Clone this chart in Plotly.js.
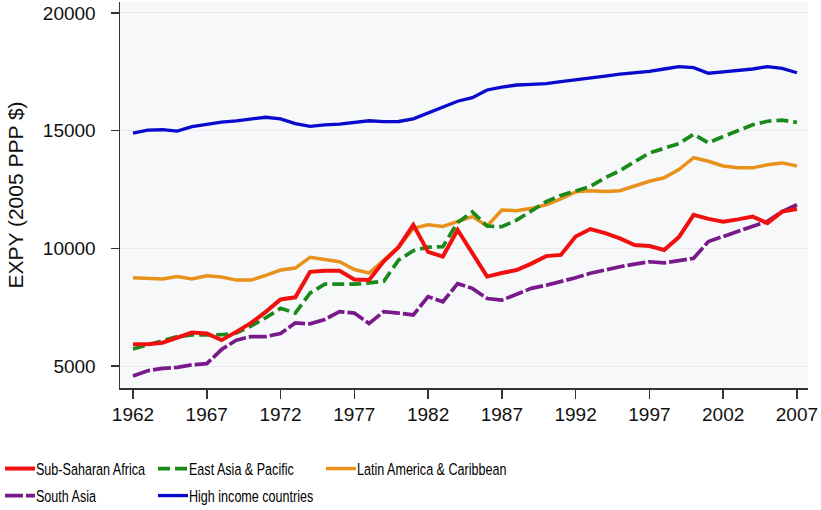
<!DOCTYPE html>
<html><head><meta charset="utf-8">
<script src="https://cdn.plot.ly/plotly-3.0.1.min.js"></script>
<style>
html,body{margin:0;padding:0;background:#fff}
#chart{width:821px;height:510px}
#chart text.legendtext,
#chart g.infolayer g[class^="legend"] text{transform:translate(36px,0px) scale(0.74,1) translate(-40px,0px) !important;}
</style>
</head><body><div id="chart"></div>
<script>
const years = [1962,1963,1964,1965,1966,1967,1968,1969,1970,1971,
  1972,1973,1974,1975,1976,1977,1978,1979,1980,1981,
  1982,1983,1984,1985,1986,1987,1988,1989,1990,1991,
  1992,1993,1994,1995,1996,1997,1998,1999,2000,2001,
  2002,2003,2004,2005,2006,2007];

const subSaharanAfrica = [5930,5930,5990,6200,6420,6380,6100,6450,6830,7300,
  7830,7920,9000,9050,9050,8680,8660,9450,10050,11000,
  9850,9650,10780,9800,8800,8950,9080,9350,9670,9720,
  10500,10820,10650,10420,10140,10100,9930,10480,11420,11250,
  11130,11230,11350,11070,11560,11670];

const eastAsiaPacific = [5720,5900,6080,6250,6320,6320,6330,6400,6700,7050,
  7450,7250,8100,8480,8490,8480,8530,8600,9500,9900,
  10050,10070,11100,11550,10950,10920,11200,11600,11980,12250,
  12420,12630,13000,13300,13680,14050,14250,14450,14850,14480,
  14750,15000,15250,15400,15450,15350];

const latinAmericaCaribbean = [8750,8720,8700,8800,8700,8830,8780,8650,8650,8850,
  9080,9160,9620,9530,9430,9100,8950,9500,10050,10850,
  11000,10930,11150,11350,10950,11630,11600,11700,11850,12100,
  12400,12450,12420,12450,12650,12850,13000,13350,13850,13700,
  13500,13420,13420,13550,13630,13500];

const southAsia = [4580,4800,4900,4940,5050,5100,5700,6100,6250,6250,
  6380,6830,6790,6980,7310,7250,6810,7310,7250,7170,
  7950,7730,8500,8300,7870,7800,8050,8300,8430,8580,
  8750,8940,9100,9220,9330,9430,9380,9500,9580,10290,
  10500,10720,10950,11150,11560,11850];

const highIncome = [14900,15020,15040,14980,15170,15280,15360,15420,15490,15570,
  15500,15300,15180,15250,15280,15340,15420,15380,15390,15500,
  15750,15980,16250,16400,16730,16850,16940,16970,17000,17080,
  17150,17230,17320,17400,17450,17520,17620,17720,17680,17440,
  17500,17560,17620,17720,17650,17460];

const seriesNames = ['Sub-Saharan Africa','East Asia & Pacific','Latin America & Caribbean','South Asia','High income countries'];
const xTickVals = [1962,1967,1972,1977,1982,1987,1992,1997,2002,2007];
const xTickText = ['1962','1967','1972','1977','1982','1987','1992','1997','2002','2007'];
const yTickVals = [5000,10000,15000,20000];
const yTickText = ['5000','10000','15000','20000'];
const yTitle = 'EXPY (2005 PPP $)';

const legFont = {family:'"Liberation Sans", Arial, sans-serif', size:17, color:'#000'};
const condenseCss = 'translate(36px,0px) scale(0.74,1) translate(-40px,0px)';

const mk = (y, name, color, width, dash, leg) => ({
  x: years, y: y, name: name, type: 'scatter', mode: 'lines',
  line: {color: color, width: width, dash: dash},
  legend: leg, hoverinfo: 'skip'
});

const traces = [
  mk(highIncome, seriesNames[4], '#0a0acf', 3.3, 'solid', 'legend5'),
  mk(southAsia, seriesNames[3], '#7a1a8a', 3.7, '18px,3px', 'legend4'),
  mk(latinAmericaCaribbean, seriesNames[2], '#e8921c', 3.5, 'solid', 'legend3'),
  mk(eastAsiaPacific, seriesNames[1], '#1a8a1a', 3.7, '12px,5px', 'legend2'),
  mk(subSaharanAfrica, seriesNames[0], '#f01010', 4, 'solid', 'legend')
];

const W = 688, H = 386, L = 120, T = 2;
const lx = px => (px - L) / W;
const ly = py => (T + H - py) / H;
const legBase = {xanchor:'left', yanchor:'middle', bgcolor:'rgba(0,0,0,0)', borderwidth:0, font: legFont, itemclick:false, itemdoubleclick:false};

const layout = {
  width: 821, height: 510,
  margin: {l: L, r: 821 - L - W, t: T, b: 510 - T - H, autoexpand: false},
  paper_bgcolor: '#ffffff',
  plot_bgcolor: '#f6f8fa',
  font: {family: '"Liberation Sans", Arial, sans-serif', color: '#000'},
  showlegend: true,
  xaxis: {
    range: [1961.12, 2007.75], tickvals: xTickVals, ticktext: xTickText,
    ticks: 'outside', ticklen: 9, tickwidth: 1.5, tickcolor: '#333',
    showline: true, linecolor: '#333', linewidth: 1.5,
    showgrid: false, zeroline: false, tickfont: {size: 19, color:'#111'}
  },
  yaxis: {
    range: [4066, 20467], tickvals: yTickVals, ticktext: yTickText,
    ticks: 'outside', ticklen: 8, tickwidth: 1.5, tickcolor: '#333',
    showline: true, linecolor: '#333', linewidth: 1.5,
    showgrid: true, gridcolor: '#e8ecef', gridwidth: 1, zeroline: false,
    tickfont: {size: 19, color:'#111'}, ticklabelstandoff: 11,
    title: {text: yTitle, font: {size: 21, color:'#111'}, standoff: 13}
  },
  legend:  Object.assign({}, legBase, {x: lx(0),   y: ly(469)}),
  legend2: Object.assign({}, legBase, {x: lx(153), y: ly(469)}),
  legend3: Object.assign({}, legBase, {x: lx(321), y: ly(469)}),
  legend4: Object.assign({}, legBase, {x: lx(0),   y: ly(496)}),
  legend5: Object.assign({}, legBase, {x: lx(153), y: ly(496)})
};

function condenseLegend() {
  const root = document.getElementById('chart');
  root.querySelectorAll('text.legendtext, g.infolayer g[class^="legend"] text').forEach(el => {
    el.style.setProperty('transform', condenseCss, 'important');
  });
}

Plotly.newPlot('chart', traces, layout, {staticPlot: true, displayModeBar: false}).then(gd => {
  condenseLegend();
  gd.on('plotly_afterplot', condenseLegend);
  [0, 50, 150, 400, 800].forEach(t => setTimeout(condenseLegend, t));
  new MutationObserver(() => condenseLegend()).observe(gd, {childList: true, subtree: true});
});
</script>
</body></html>
